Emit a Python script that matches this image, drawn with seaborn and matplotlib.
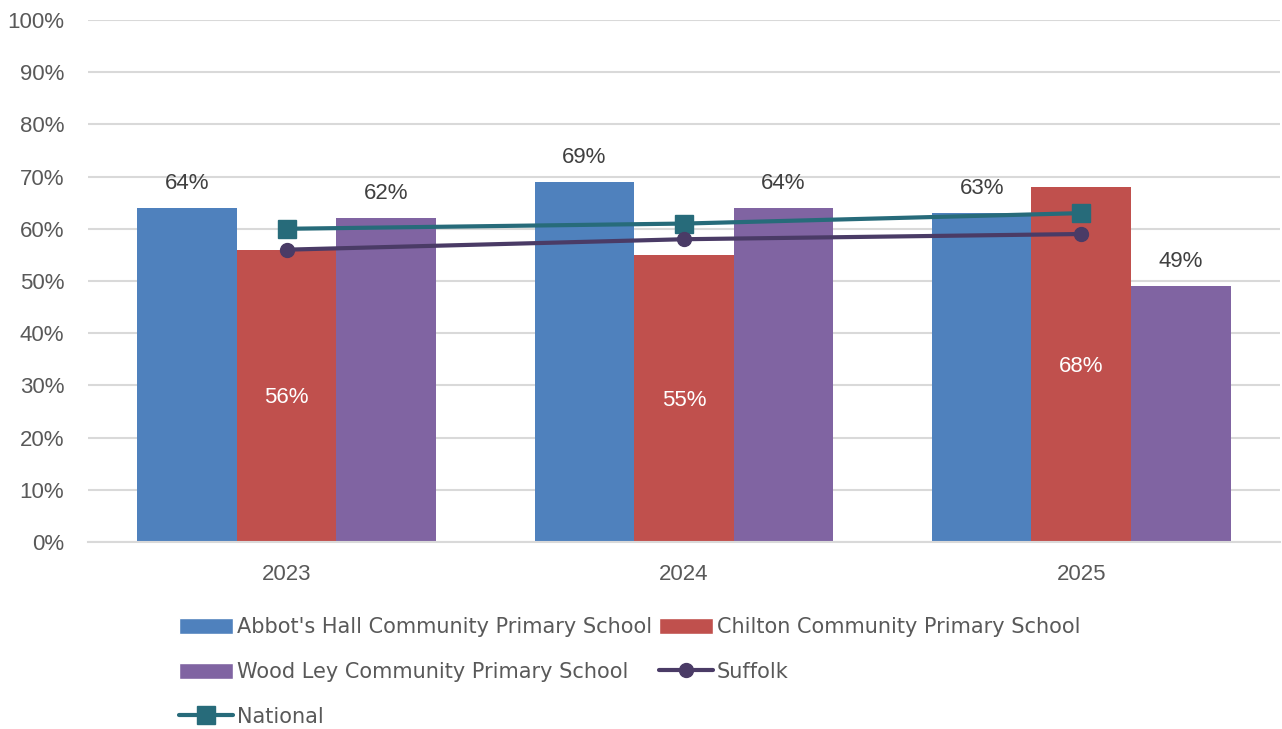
import matplotlib
matplotlib.use("Agg")
import matplotlib.pyplot as plt
import seaborn as sns
import pandas as pd
from matplotlib.patches import Patch
from matplotlib.lines import Line2D

years = ["2023", "2024", "2025"]
schools = ["Abbot's Hall Community Primary School",
           "Chilton Community Primary School",
           "Wood Ley Community Primary School"]
abbots = [64, 69, 63]
chilton = [56, 55, 68]
woodley = [62, 64, 49]
suffolk = [56, 58, 59]
national = [60, 61, 63]
yticks = [0, 10, 20, 30, 40, 50, 60, 70, 80, 90, 100]

colors = ["#4F81BD", "#C0504D", "#8064A2"]
c_suffolk = "#4A3B66"
c_national = "#276B7A"

sns.set_theme(style="white")
plt.rcParams['font.family'] = ['Liberation Sans', 'DejaVu Sans']

rows = []
for s, vals in zip(schools, [abbots, chilton, woodley]):
    for y, v in zip(years, vals):
        rows.append({"Year": y, "School": s, "Value": v})
df = pd.DataFrame(rows)

fig = plt.figure(figsize=(12.82, 7.29), dpi=100)
ax = fig.add_axes([0.0686, 0.2565, 0.9298, 0.7161])

sns.barplot(data=df, x="Year", y="Value", hue="School", hue_order=schools,
            palette=colors, width=0.752, gap=0, saturation=1, ax=ax,
            legend=False, edgecolor="none", zorder=2)

# bar labels
for i, cont in enumerate(ax.containers):
    for bar in cont:
        h = bar.get_height()
        xc = bar.get_x() + bar.get_width() / 2
        if i == 1:
            ax.text(xc, h / 2 - 0.4, f"{h:.0f}%", ha="center", va="center",
                    color="white", fontsize=16, zorder=5)
        else:
            ax.text(xc, h + 4.7, f"{h:.0f}%", ha="center", va="center",
                    color="#404040", fontsize=16, zorder=5)

xs = list(range(len(years)))
ax.plot(xs, national, color=c_national, lw=3, marker="s", markersize=13,
        zorder=4, solid_capstyle="round")
ax.plot(xs, suffolk, color=c_suffolk, lw=3, marker="o", markersize=10,
        zorder=4, solid_capstyle="round")

ax.set_ylim(0, 100)
ax.set_xlim(-0.5, 2.5)
ax.set_yticks(yticks)
ax.set_yticklabels([f"{t}%" for t in yticks])
ax.yaxis.grid(True, color="#D9D9D9", lw=1.5, zorder=0)
ax.set_axisbelow(True)
for sp in ["top", "right", "left"]:
    ax.spines[sp].set_visible(False)
ax.spines["bottom"].set_color("#D9D9D9")
ax.spines["bottom"].set_linewidth(1.5)
ax.tick_params(axis="y", length=0, pad=17, labelsize=16, labelcolor="#595959")
ax.tick_params(axis="x", length=0, pad=16, labelsize=16, labelcolor="#595959")
ax.set_xlabel("")
ax.set_ylabel("")

handles = [
    Patch(facecolor=colors[0], label=schools[0]),
    Patch(facecolor=colors[2], label=schools[2]),
    Line2D([], [], color=c_national, lw=3, marker="s", markersize=13, label="National"),
    Patch(facecolor=colors[1], label=schools[1]),
    Line2D([], [], color=c_suffolk, lw=3, marker="o", markersize=10, label="Suffolk"),
]
leg = fig.legend(handles=handles, ncol=2, loc="upper left",
                 bbox_to_anchor=(0.133, 0.165), frameon=False,
                 prop={"family": ["DejaVu Sans"], "size": 15},
                 labelcolor="#595959", handlelength=2.6, handleheight=0.85,
                 handletextpad=0.2, columnspacing=0.3, labelspacing=1.2,
                 borderaxespad=0)

fig.savefig("out.png", dpi=100)
